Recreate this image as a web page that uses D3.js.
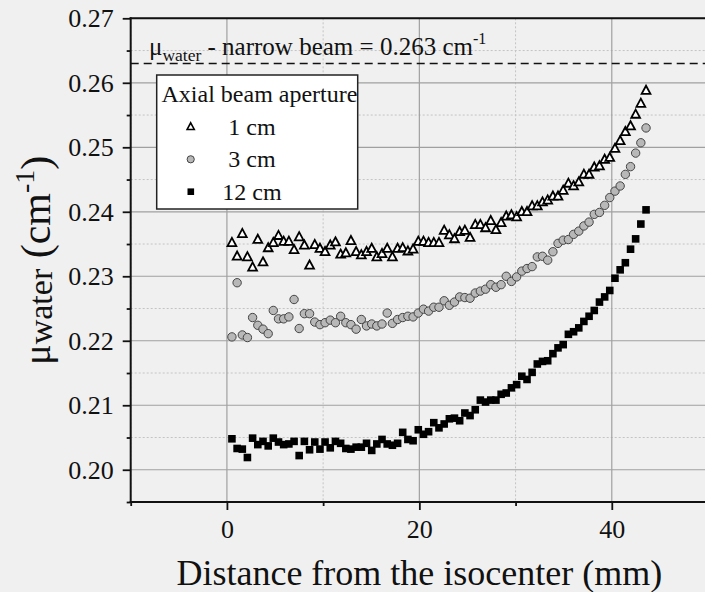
<!DOCTYPE html>
<html>
<head>
<meta charset="utf-8">
<script src="https://cdn.jsdelivr.net/npm/d3@7"></script>
<style>
  body { margin: 0; background: #f0f0f0; }
  text { font-family: "Liberation Serif", "Times New Roman", serif; fill: #111; }
</style>
</head>
<body>
<script>
// distance from isocenter (mm), shared by all three series
let distance = [
  0.52, 1.06, 1.60, 2.13, 2.67, 3.21, 3.75, 4.29, 4.82, 5.36,
  5.90, 6.44, 6.98, 7.51, 8.05, 8.59, 9.13, 9.67, 10.20, 10.74,
  11.28, 11.82, 12.36, 12.89, 13.43, 13.97, 14.51, 15.05, 15.58, 16.12,
  16.66, 17.20, 17.74, 18.27, 18.81, 19.35, 19.89, 20.43, 20.96, 21.50,
  22.04, 22.58, 23.12, 23.65, 24.19, 24.73, 25.27, 25.81, 26.34, 26.88,
  27.42, 27.96, 28.50, 29.03, 29.57, 30.11, 30.65, 31.19, 31.72, 32.26,
  32.80, 33.34, 33.88, 34.41, 34.95, 35.49, 36.03, 36.57, 37.10, 37.64,
  38.18, 38.72, 39.26, 39.79, 40.33, 40.87, 41.41, 41.95, 42.48, 43.02,
  43.56
];

let mu1cm = [
  0.2352, 0.2331, 0.2366, 0.2330, 0.2314, 0.2357, 0.2322, 0.2344, 0.2352, 0.2363,
  0.2354, 0.2354, 0.2341, 0.2361, 0.2348, 0.2317, 0.2349, 0.2343, 0.2338, 0.2348,
  0.2353, 0.2334, 0.2336, 0.2355, 0.2338, 0.2333, 0.2338, 0.2343, 0.2330, 0.2335,
  0.2343, 0.2330, 0.2343, 0.2344, 0.2339, 0.2342, 0.2354, 0.2354, 0.2352, 0.2352,
  0.2352, 0.2371, 0.2364, 0.2358, 0.2369, 0.2371, 0.2360, 0.2380, 0.2380, 0.2375,
  0.2386, 0.2372, 0.2383, 0.2393, 0.2395, 0.2392, 0.2400, 0.2400, 0.2409, 0.2409,
  0.2415, 0.2418, 0.2424, 0.2424, 0.2433, 0.2444, 0.2440, 0.2446, 0.2458, 0.2458,
  0.2469, 0.2471, 0.2481, 0.2484, 0.2498, 0.2510, 0.2524, 0.2533, 0.2551, 0.2568,
  0.2588
];

let mu3cm = [
  0.2206, 0.2290, 0.2209, 0.2205, 0.2236, 0.2224, 0.2218, 0.2211, 0.2247, 0.2234,
  0.2234, 0.2237, 0.2264, 0.2219, 0.2242, 0.2242, 0.2229, 0.2225, 0.2228, 0.2232,
  0.2228, 0.2238, 0.2228, 0.2225, 0.2218, 0.2233, 0.2223, 0.2226, 0.2223, 0.2226,
  0.2243, 0.2227, 0.2233, 0.2236, 0.2238, 0.2237, 0.2243, 0.2249, 0.2246, 0.2252,
  0.2252, 0.2262, 0.2255, 0.2260, 0.2268, 0.2267, 0.2266, 0.2274, 0.2277, 0.2280,
  0.2287, 0.2283, 0.2287, 0.2300, 0.2292, 0.2299, 0.2308, 0.2312, 0.2315, 0.2330,
  0.2331, 0.2325, 0.2338, 0.2351, 0.2356, 0.2357, 0.2365, 0.2370, 0.2378, 0.2384,
  0.2396, 0.2399, 0.2410, 0.2422, 0.2432, 0.2440, 0.2458, 0.2470, 0.2491, 0.2507,
  0.2530
];

let mu12cm = [
  0.2048, 0.2033, 0.2032, 0.2019, 0.2049, 0.2039, 0.2044, 0.2037, 0.2049, 0.2043,
  0.2039, 0.2040, 0.2044, 0.2022, 0.2044, 0.2031, 0.2043, 0.2032, 0.2043, 0.2034,
  0.2044, 0.2041, 0.2033, 0.2032, 0.2035, 0.2035, 0.2041, 0.2030, 0.2040, 0.2047,
  0.2040, 0.2038, 0.2041, 0.2058, 0.2047, 0.2045, 0.2062, 0.2055, 0.2059, 0.2073,
  0.2065, 0.2071, 0.2079, 0.2080, 0.2076, 0.2088, 0.2084, 0.2093, 0.2108, 0.2105,
  0.2108, 0.2108, 0.2117, 0.2119, 0.2127, 0.2132, 0.2145, 0.2140, 0.2151, 0.2164,
  0.2168, 0.2169, 0.2180, 0.2189, 0.2194, 0.2210, 0.2214, 0.2220, 0.2230, 0.2238,
  0.2247, 0.2260, 0.2268, 0.2278, 0.2297, 0.2310, 0.2321, 0.2342, 0.2358, 0.2381,
  0.2403
];

let narrowBeam = 0.263;
let legendLabels = ['1 cm', '3 cm', '12 cm'];
let xMajor = [0, 20, 40];
let xMinor = [-10, 10, 30, 50];
let yMajor = [0.20, 0.21, 0.22, 0.23, 0.24, 0.25, 0.26, 0.27];
let yMinor = [0.195, 0.205, 0.215, 0.225, 0.235, 0.245, 0.255, 0.265];

let svg = d3.select('body')
  .append('svg')
  .attr('width', 705)
  .attr('height', 592)
  .style('display', 'block');

svg.append('rect').attr('width', 705).attr('height', 592).attr('fill', '#f0f0f0');

let pLeft = 130.7, pRight = 708, pTop = 18.3, pBottom = 502;
let x = d3.scaleLinear().domain([-10, 50]).range([pLeft, pRight]);
let y = d3.scaleLinear().domain([0.195, 0.27]).range([pBottom, pTop]);

// grid
let grid = svg.append('g');
grid.selectAll('.gxm').data(xMinor).enter().append('line')
  .attr('x1', d => x(d)).attr('x2', d => x(d)).attr('y1', pTop).attr('y2', pBottom)
  .attr('stroke', '#c4c4c4').attr('stroke-dasharray', '2,2');
grid.selectAll('.gym').data(yMinor).enter().append('line')
  .attr('x1', pLeft).attr('x2', pRight).attr('y1', d => y(d)).attr('y2', d => y(d))
  .attr('stroke', '#c4c4c4').attr('stroke-dasharray', '2,2');
grid.selectAll('.gxM').data(xMajor).enter().append('line')
  .attr('x1', d => x(d)).attr('x2', d => x(d)).attr('y1', pTop).attr('y2', pBottom)
  .attr('stroke', '#a0a0a0').attr('stroke-width', 1.2);
grid.selectAll('.gyM').data(yMajor).enter().append('line')
  .attr('x1', pLeft).attr('x2', pRight).attr('y1', d => y(d)).attr('y2', d => y(d))
  .attr('stroke', '#a0a0a0').attr('stroke-width', 1.2);

// reference line
svg.append('line')
  .attr('x1', pLeft).attr('x2', pRight)
  .attr('y1', y(narrowBeam)).attr('y2', y(narrowBeam))
  .attr('stroke', '#111').attr('stroke-width', 1.6)
  .attr('stroke-dasharray', '8,5');

let ann = svg.append('text').attr('x', 149).attr('y', 55).style('font-size', '25px');
ann.append('tspan').text('μ');
ann.append('tspan').attr('dy', 6).style('font-size', '17.5px').text('water');
ann.append('tspan').attr('dy', -6).text(' - narrow beam = ' + narrowBeam + ' cm');
ann.append('tspan').attr('dy', -11).style('font-size', '16px').text('-1');

// axes
function styleAxis(g) {
  g.select('.domain').remove();
  g.selectAll('.tick line').attr('stroke', '#111').attr('stroke-width', 1.8);
  g.selectAll('.tick text').style('font-size', '26px')
    .style('font-family', '"Liberation Serif", serif').attr('fill', '#111');
}

svg.append('g').attr('transform', `translate(0,${pBottom})`)
  .call(d3.axisBottom(x).tickValues(xMajor).tickSize(8).tickPadding(10).tickFormat(d3.format('d')))
  .call(styleAxis);
svg.append('g').attr('transform', `translate(0,${pBottom})`)
  .call(d3.axisBottom(x).tickValues(xMinor).tickSize(4).tickFormat(''))
  .call(styleAxis);
svg.append('g').attr('transform', `translate(${pLeft},0)`)
  .call(d3.axisLeft(y).tickValues(yMajor).tickSize(8).tickPadding(9).tickFormat(d3.format('.2f')))
  .call(styleAxis);
svg.append('g').attr('transform', `translate(${pLeft},0)`)
  .call(d3.axisLeft(y).tickValues(yMinor).tickSize(4).tickFormat(''))
  .call(styleAxis);

// frame
svg.append('line').attr('x1', pLeft).attr('x2', pLeft).attr('y1', pTop - 1).attr('y2', pBottom + 1)
  .attr('stroke', '#111').attr('stroke-width', 2);
svg.append('line').attr('x1', pLeft - 1).attr('x2', 705).attr('y1', pBottom).attr('y2', pBottom)
  .attr('stroke', '#111').attr('stroke-width', 2);
svg.append('line').attr('x1', pLeft - 1).attr('x2', 705).attr('y1', pTop).attr('y2', pTop)
  .attr('stroke', '#111').attr('stroke-width', 2);

// data
let pts = (vals) => vals.map((v, i) => ({ x: distance[i], y: v }));

function triPath(s) {
  return `M0,${-s * 0.6}L${s * 0.55},${s * 0.42}L${-s * 0.55},${s * 0.42}Z`;
}

svg.append('g').selectAll('rect').data(pts(mu12cm)).enter().append('rect')
  .attr('x', d => x(d.x) - 3.8).attr('y', d => y(d.y) - 3.8)
  .attr('width', 7.6).attr('height', 7.6).attr('fill', '#000');

svg.append('g').selectAll('circle').data(pts(mu3cm)).enter().append('circle')
  .attr('cx', d => x(d.x)).attr('cy', d => y(d.y)).attr('r', 4.2)
  .attr('fill', '#b8b8b8').attr('stroke', '#444').attr('stroke-width', 1);

svg.append('g').selectAll('path').data(pts(mu1cm)).enter().append('path')
  .attr('transform', d => `translate(${x(d.x)},${y(d.y)})`)
  .attr('d', triPath(8))
  .attr('fill', '#fff').attr('stroke', '#000').attr('stroke-width', 1.8)
  .attr('stroke-linejoin', 'miter');

// legend
let lg = svg.append('g');
lg.append('rect').attr('x', 156.7).attr('y', 75).attr('width', 201).attr('height', 134)
  .attr('fill', '#fff').attr('stroke', '#222').attr('stroke-width', 1.5);
lg.append('text').attr('x', 161.5).attr('y', 102).style('font-size', '24px').text('Axial beam aperture');
let rows = [126.7, 159.3, 191.7];
lg.append('path').attr('transform', `translate(190.7,${rows[0]})`).attr('d', triPath(6.5))
  .attr('fill', '#fff').attr('stroke', '#000').attr('stroke-width', 1.6);
lg.append('circle').attr('cx', 190.7).attr('cy', rows[1]).attr('r', 3.6)
  .attr('fill', '#b8b8b8').attr('stroke', '#444').attr('stroke-width', 1);
lg.append('rect').attr('x', 187.5).attr('y', rows[2] - 3.3).attr('width', 6.6).attr('height', 6.6).attr('fill', '#000');
lg.selectAll('.lt').data(legendLabels).enter().append('text')
  .attr('x', 252).attr('y', (d, i) => rows[i] + 8)
  .attr('text-anchor', 'middle').style('font-size', '24px').text(d => d);

// axis titles
svg.append('text').attr('x', (pLeft + pRight) / 2).attr('y', 585)
  .attr('text-anchor', 'middle').style('font-size', '36px')
  .text('Distance from the isocenter (mm)');

let yt = svg.append('text')
  .attr('transform', `translate(50,${(pTop + pBottom) / 2}) rotate(-90)`)
  .attr('text-anchor', 'middle');
yt.append('tspan').style('font-size', '38px').text('μ');
yt.append('tspan').attr('dy', 2).style('font-size', '34px').text('water');
yt.append('tspan').attr('dy', -2).style('font-size', '42px').text(' (cm');
yt.append('tspan').attr('dy', -16).style('font-size', '28px').text('-1');
yt.append('tspan').attr('dy', 16).style('font-size', '42px').text(')');
</script>
</body>
</html>
